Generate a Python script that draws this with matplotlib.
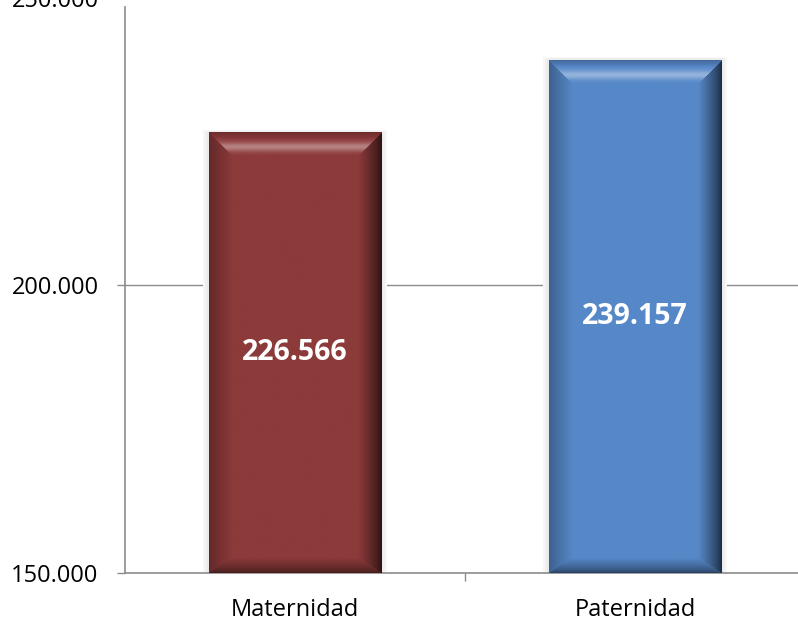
import matplotlib
matplotlib.use("Agg")
import matplotlib.pyplot as plt
import matplotlib.colors as mcolors
import numpy as np

categories = ["Maternidad", "Paternidad"]
values = [226566, 239157]
labels = ["226.566", "239.157"]
ytick_vals = [150000, 200000, 250000]
ytick_labels = ["150.000", "200.000", "250.000"]
bar_colors = ["#8C3A3A", "#5688C8"]

W, H = 798, 620
fig = plt.figure(figsize=(W / 100, H / 100), dpi=100)
ax_px_h = 575
ax = fig.add_axes([125 / W, 47 / H, 680 / W, ax_px_h / H])
ymin, ymax = 150000, 250000
ax.set_ylim(ymin, ymax)
ax.set_xlim(-0.5, 1.5)

x = np.arange(len(categories))
width = 0.506
ax.axhline(200000, color="#8C8C8C", lw=1.0, zorder=0)

bars = ax.bar(x, [v - ymin for v in values], bottom=ymin, width=width,
              color=bar_colors, zorder=2, linewidth=0)


def bevel_image(base_hex, wpx, hpx, bev=23, bev_bot=15):
    base = np.array(mcolors.to_rgb(base_hex))
    yy, xx = np.mgrid[0:hpx, 0:wpx].astype(float)
    a = xx              # from left
    b = wpx - 1 - xx    # from right
    c = yy              # from top
    d = hpx - 1 - yy    # from bottom
    ds = d * bev / bev_bot
    img = np.tile(base, (hpx, wpx, 1))
    white = np.ones(3)
    # top bevel
    top = (c <= a) & (c <= b) & (c <= ds) & (c < bev)
    t = c / bev
    hl = np.exp(-((t - 0.62) / 0.2) ** 2) * 0.36
    dk = np.clip(0.3 - t, 0, None) * 0.7
    mix = base * (1 - dk[..., None]) + (white - base) * hl[..., None]
    img[top] = mix[top]
    # right bevel
    right = (b < a) & (b < c) & (b <= ds) & (b < bev)
    t = b / bev
    f = 0.33 + 0.67 * t ** 0.8
    img[right] = (base * f[..., None])[right]
    # left bevel
    left = (a < b) & (a < c) & (a <= ds) & (a < bev)
    t = a / bev
    f = 0.72 + 0.28 * t
    img[left] = (base * f[..., None])[left]
    # bottom bevel
    bot = (ds < a) & (ds < b) & (ds < c) & (d < bev_bot)
    t = d / bev_bot
    f = 0.5 + 0.5 * t ** 0.7
    img[bot] = (base * f[..., None])[bot]
    return np.clip(img, 0, 1)


fig.canvas.draw()
for i, bar in enumerate(bars):
    x0 = bar.get_x(); x1 = x0 + bar.get_width()
    y0 = ymin; y1 = values[i]
    p0 = ax.transData.transform((x0, y0))
    p1 = ax.transData.transform((x1, y1))
    wpx = int(round(p1[0] - p0[0])); hpx = int(round(p1[1] - p0[1]))
    img = bevel_image(bar_colors[i], wpx, hpx)
    ax.imshow(img, extent=(x0, x1, y0, y1), aspect="auto", zorder=3,
              interpolation="bilinear")
    # soft halo
    for k, col in enumerate(["#F7F7F7", "#F0F0F0", "#EAEAEA"]):
        pad = (3 - k) * 0.006
        ax.add_patch(plt.Rectangle((x0 - pad, y0), (x1 - x0) + 2 * pad,
                                   (y1 - y0) + pad * 28000, color=col, zorder=1, lw=0))
    ax.text(x[i], (y0 + y1) / 2, labels[i], ha="center", va="center",
            color="white", fontsize=20.5, fontweight="bold", family="Open Sans", zorder=5)
    bar.set_visible(False)

ax.set_xlim(-0.5, 1.5)
ax.set_ylim(ymin, ymax)
ax.set_yticks(ytick_vals)
ax.set_yticklabels(ytick_labels, family="Open Sans", fontsize=17)
ax.set_xticks(x)
ax.set_xticklabels(categories, family="Open Sans", fontsize=17)
ax.set_xticks([0.5], minor=True)
ax.tick_params(axis="x", which="major", length=0, pad=18)
ax.tick_params(axis="x", which="minor", length=6, color="#8C8C8C", width=1)
ax.tick_params(axis="y", length=6, color="#8C8C8C", width=1, pad=13)

for s in ["top", "right"]:
    ax.spines[s].set_visible(False)
for s in ["left", "bottom"]:
    ax.spines[s].set_color("#8C8C8C")
    ax.spines[s].set_linewidth(1.2)
ax.spines["left"].set_bounds(ymin, ymax - 9 / ax_px_h * (ymax - ymin))

fig.savefig("out.png", dpi=100)
